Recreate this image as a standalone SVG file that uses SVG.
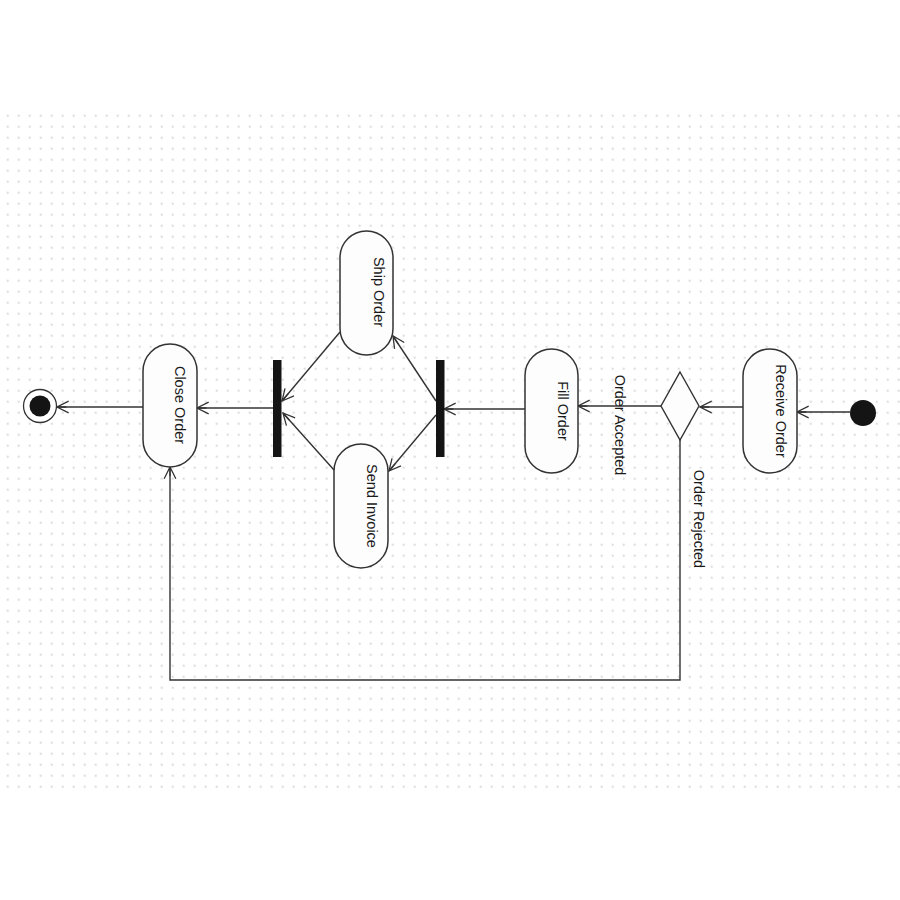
<svg xmlns="http://www.w3.org/2000/svg" width="900" height="900" viewBox="0 0 900 900">
<defs>
<pattern id="grid" patternUnits="userSpaceOnUse" x="1.5" y="109.5" width="11" height="11">
<rect x="5.5" y="5.5" width="1.6" height="1.6" fill="#c4c4c4"/>
</pattern>
<marker id="arr" markerUnits="userSpaceOnUse" markerWidth="14" markerHeight="14" viewBox="0 0 12 12" refX="11" refY="6" orient="auto">
<path d="M1,1 L11,6 L1,11 M3,6 L11,6" fill="none" stroke="#333" stroke-width="1.1"/>
</marker>
</defs>
<style>
.act{fill:#fdfdfd;stroke:#333;stroke-width:1.5}
.lbl{font-family:"Liberation Sans",Arial,sans-serif;font-size:14.5px;fill:#1a1a1a;text-anchor:middle}
.edge{fill:none;stroke:#333;stroke-width:1.4;marker-end:url(#arr)}
.bar{fill:#141414}
</style>
<rect x="0" y="0" width="900" height="900" fill="#ffffff"/>
<rect x="0" y="110" width="900" height="682" fill="url(#grid)"/>

<g id="connectors">
<line class="edge" x1="850" y1="412" x2="797" y2="412"/>
<line class="edge" x1="743" y1="407" x2="700" y2="407"/>
<line class="edge" x1="661" y1="406" x2="578" y2="406"/>
<line class="edge" x1="525" y1="409" x2="444" y2="409"/>
<line class="edge" x1="436" y1="401" x2="393" y2="336"/>
<line class="edge" x1="436" y1="415" x2="389" y2="471"/>
<line class="edge" x1="340" y1="332" x2="282" y2="401"/>
<line class="edge" x1="334" y1="470" x2="283" y2="413"/>
<line class="edge" x1="273" y1="408" x2="197" y2="408"/>
<line class="edge" x1="143" y1="407" x2="57" y2="407"/>
<polyline class="edge" points="680,440 680,680 170,680 170,467"/>
<text class="lbl" transform="translate(614.5,425) rotate(90)">Order Accepted</text>
<text class="lbl" transform="translate(693.5,519) rotate(90)">Order Rejected</text>
</g>

<g id="initial"><circle cx="863" cy="413" r="13" fill="#141414"/></g>
<g id="final">
<circle cx="40" cy="406" r="16.5" fill="#fff" stroke="#333" stroke-width="1.3"/>
<circle cx="40" cy="406" r="10.5" fill="#141414"/>
</g>
<g id="receive-order">
<rect class="act" x="743" y="349" width="54" height="124" rx="27" ry="27"/>
<text class="lbl" transform="translate(775.5,411) rotate(90)">Receive Order</text>
</g>
<g id="decision">
<polygon points="680,372 699,406 680,440 661,406" fill="#fdfdfd" stroke="#333" stroke-width="1.4"/>
</g>
<g id="fill-order">
<rect class="act" x="525" y="349" width="53" height="124" rx="26.5" ry="26.5"/>
<text class="lbl" transform="translate(557.5,411) rotate(90)">Fill Order</text>
</g>
<g id="fork"><rect class="bar" x="436" y="360" width="8.5" height="97"/></g>
<g id="ship-order">
<rect class="act" x="340" y="231" width="53" height="124" rx="26.5" ry="26.5"/>
<text class="lbl" transform="translate(373.5,292) rotate(90)">Ship Order</text>
</g>
<g id="send-invoice">
<rect class="act" x="334" y="444" width="54" height="124" rx="27" ry="27"/>
<text class="lbl" transform="translate(366.5,506) rotate(90)">Send Invoice</text>
</g>
<g id="join"><rect class="bar" x="273" y="360" width="8.5" height="97"/></g>
<g id="close-order">
<rect class="act" x="143" y="344" width="54" height="123" rx="27" ry="27"/>
<text class="lbl" transform="translate(175,405) rotate(90)">Close Order</text>
</g>
</svg>
